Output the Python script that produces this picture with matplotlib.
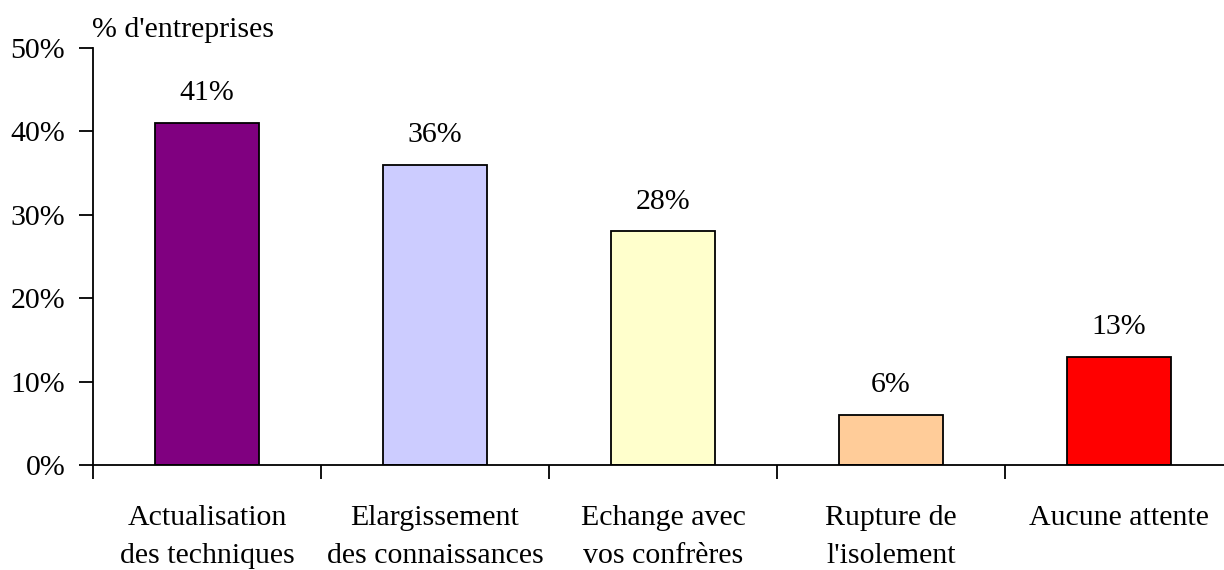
import matplotlib.pyplot as plt

# Chart data
categories = ["Actualisation\ndes techniques", "Elargissement\ndes connaissances",
              "Echange avec\nvos confrères", "Rupture de\nl'isolement", "Aucune attente"]
values = [41, 36, 28, 6, 13]
bar_colors = ["#800080", "#CCCCFF", "#FFFFCC", "#FFCC99", "#FF0000"]
y_ticks = [0, 10, 20, 30, 40, 50]

plt.rcParams["font.family"] = ["Liberation Serif", "DejaVu Serif"]
FS = 21.5

fig = plt.figure(figsize=(12.24, 5.7), dpi=100)
ax = fig.add_axes([93 / 1224, 1 - 465 / 570, 1140 / 1224, (465 - 48) / 570])

positions = list(range(len(categories)))
ax.bar(positions, values, width=0.46, color=bar_colors, edgecolor="black", linewidth=1.3)

# Value labels above bars
for x, v in zip(positions, values):
    ax.annotate(f"{v}%", xy=(x, v), xytext=(0, 12), textcoords="offset points",
                ha="center", va="bottom", fontsize=FS)

ax.set_xlim(-0.5, len(categories) - 0.5)
ax.set_ylim(0, 50)

# Ticks at category boundaries, labels at centres
ax.set_xticks([p - 0.5 for p in positions])
ax.set_xticklabels([])
ax.set_xticks(positions, minor=True)
ax.set_xticklabels(categories, minor=True, fontsize=FS, linespacing=1.6)
ax.tick_params(axis="x", which="major", direction="out", length=10, width=1.3)
ax.tick_params(axis="x", which="minor", length=0, pad=29)

ax.set_yticks(y_ticks)
ax.set_yticklabels([f"{t}%" for t in y_ticks], fontsize=FS)
ax.tick_params(axis="y", direction="out", length=10, width=1.3, pad=10)

for side in ["top", "right"]:
    ax.spines[side].set_visible(False)
for side in ["left", "bottom"]:
    ax.spines[side].set_linewidth(1.3)

fig.text(92 / 1224, 1 - 37 / 570, "% d'entreprises", fontsize=FS, ha="left", va="baseline")

fig.savefig("out.png", dpi=100)
